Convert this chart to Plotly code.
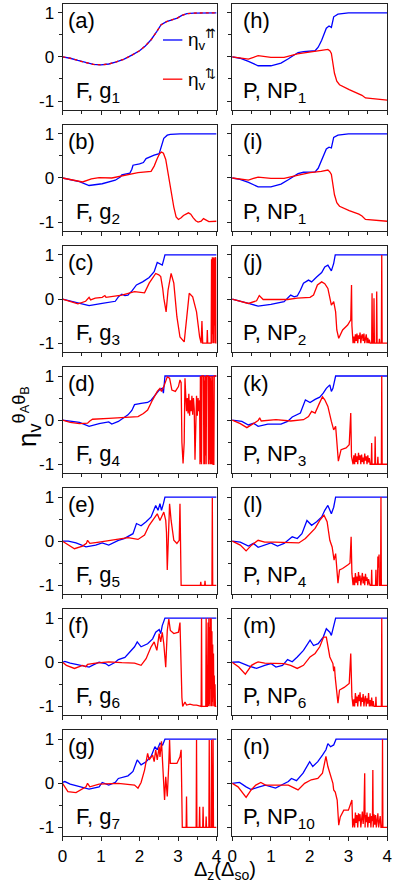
import plotly.graph_objects as go

# ---- curves, as (x, y) points ----
# left column: F, g_n        right column: P, NP_n
A_CURVE = [(0, 0), (0.2, -0.03), (0.4, -0.08), (0.6, -0.13), (0.8, -0.17), (1.0, -0.18), (1.2, -0.16),
           (1.4, -0.11), (1.6, -0.05), (1.8, 0.04), (2.0, 0.14), (2.15, 0.25), (2.3, 0.39), (2.45, 0.58),
           (2.56, 0.73), (2.7, 0.8), (2.81, 0.83), (2.9, 0.85), (2.98, 0.88), (3.1, 0.94), (3.23, 0.98),
           (3.4, 0.995), (3.6, 1.0), (4.0, 1.0)]

B_BLUE = [(0, 0), (0.44, -0.08), (0.69, -0.17), (1.03, -0.13), (1.37, -0.05), (1.5, 0.02), (1.54, 0.07),
          (1.7, 0.1), (1.75, 0.11), (1.8, 0.2), (1.83, 0.29), (2.0, 0.32), (2.1, 0.35), (2.17, 0.44),
          (2.3, 0.5), (2.38, 0.52), (2.51, 0.55), (2.57, 0.72), (2.63, 0.9), (2.72, 0.97), (2.8, 0.99),
          (3.05, 1.0), (4.0, 1.0)]
B_RED = [(0, 0), (0.25, -0.04), (0.52, -0.09), (0.75, -0.02), (0.95, 0.01), (1.28, 0.0), (1.62, 0.06),
         (1.96, 0.12), (2.3, 0.15), (2.38, 0.27), (2.46, 0.44), (2.52, 0.55), (2.57, 0.59), (2.62, 0.56),
         (2.68, 0.42), (2.74, 0.1), (2.8, -0.2), (2.89, -0.66), (2.95, -0.88), (3.01, -0.94), (3.08, -0.9),
         (3.14, -0.85), (3.27, -0.79), (3.33, -0.82), (3.39, -0.9), (3.46, -0.97), (3.52, -1.0), (3.6, -0.98),
         (3.66, -0.92), (3.72, -0.95), (3.8, -0.99), (4.0, -0.98)]

C_BLUE = [(0, 0), (0.2, -0.04), (0.44, -0.1), (0.69, -0.15), (1.03, -0.1), (1.37, -0.05), (1.45, 0.05),
          (1.54, 0.11), (1.62, 0.08), (1.7, 0.09), (1.75, 0.14), (1.79, 0.17), (1.92, 0.32), (2.08, 0.39),
          (2.25, 0.49), (2.32, 0.55), (2.38, 0.62), (2.46, 0.83), (2.52, 0.8), (2.59, 0.77), (2.63, 0.9),
          (2.66, 1.0), (4.0, 1.0)]
C_RED = [(0, 0), (0.2, -0.06), (0.4, -0.11), (0.6, -0.05), (0.69, 0.04), (0.73, -0.02), (0.85, 0.02),
         (1.03, 0.04), (1.1, 0.08), (1.13, 0.04), (1.54, 0.09), (1.87, 0.17), (2.13, 0.14), (2.25, 0.36),
         (2.42, 0.58), (2.5, 0.55), (2.55, 0.51), (2.6, 0.25), (2.63, 0.02), (2.69, -0.29), (2.74, 0.2),
         (2.82, 0.58), (2.89, 0.36), (2.97, -0.4), (3.05, -0.86), (3.16, -0.97), (3.22, -0.48), (3.29, 0.13),
         (3.38, 0.05), (3.48, -0.29), (3.56, -0.86), (3.6, -1.0), (3.62, -0.5), (3.64, -1.0), (3.75, -1.0),
         (3.76, -0.7), (3.77, -1.0), (3.86, -1.0), (3.87, 0.9), (3.88, -1.0), (3.89, 0.95), (3.9, -0.8),
         (3.91, 0.93), (3.92, -1.0), (3.93, 0.95), (3.94, -0.6), (3.95, 0.92), (3.96, -1.0), (3.97, 0.95),
         (3.98, 0.93), (3.99, -1.0), (4.0, -1.0)]

D_BLUE = [(0, 0), (0.2, -0.03), (0.44, -0.05), (0.69, -0.14), (0.95, -0.08), (1.2, -0.04), (1.28, -0.09),
          (1.45, -0.03), (1.6, 0.06), (1.7, 0.12), (1.8, 0.22), (1.87, 0.35), (2.04, 0.38), (2.21, 0.4),
          (2.3, 0.45), (2.38, 0.53), (2.51, 0.68), (2.59, 0.72), (2.62, 0.61), (2.66, 1.0), (4.0, 1.0)]
D_RED = [(0, 0), (0.2, -0.05), (0.44, -0.08), (0.65, -0.07), (0.71, -0.02), (0.78, 0.02), (1.2, 0.04),
         (1.7, 0.06), (1.96, 0.08), (2.1, 0.15), (2.21, 0.23), (2.34, 0.46), (2.46, 0.65), (2.53, 0.72),
         (2.57, 0.65), (2.63, 0.76), (2.68, 0.91), (2.72, 0.98), (2.78, 0.95), (2.84, 0.68), (2.93, 0.65),
         (3.01, 0.76), (3.05, 0.91), (3.08, 0.85), (3.1, -0.5), (3.13, -0.98), (3.16, -0.5), (3.18, 0.95),
         (3.2, 0.55), (3.22, 0.2), (3.24, 0.5), (3.26, 0.15), (3.28, 0.6), (3.3, 0.1), (3.32, 0.45),
         (3.34, 0.2), (3.36, 0.55), (3.38, 0.12), (3.4, 0.5), (3.42, 0.25), (3.44, -0.9), (3.46, 0.3),
         (3.48, 0.55), (3.5, 0.1), (3.52, 0.5), (3.54, 0.2), (3.56, 0.45), (3.57, -1.0), (3.58, 1.0),
         (3.59, -0.95), (3.6, 1.0), (3.61, -1.0), (3.62, 1.0), (3.66, 1.0), (3.67, -1.0), (3.68, 0.9),
         (3.69, -1.0), (3.7, 1.0), (3.71, -0.8), (3.72, 1.0), (3.73, -1.0), (3.74, 1.0), (3.78, 1.0),
         (3.79, -1.0), (3.8, 1.0), (3.81, -0.9), (3.82, 1.0), (3.83, -1.0), (3.84, 0.95), (3.85, -1.0),
         (3.86, 1.0), (3.87, -1.0), (3.88, 0.9), (3.89, -1.0), (3.9, 1.0), (3.91, -1.0), (3.93, -1.0),
         (3.94, 1.0), (3.95, 1.0), (4.0, 1.0)]

E_BLUE = [(0, 0), (0.15, 0.0), (0.35, -0.04), (0.5, -0.1), (0.61, -0.13), (0.86, -0.09), (1.03, -0.04),
          (1.2, -0.09), (1.3, -0.05), (1.45, 0.02), (1.6, 0.06), (1.7, 0.11), (1.83, 0.17), (1.92, 0.4),
          (2.04, 0.35), (2.17, 0.44), (2.3, 0.55), (2.42, 0.81), (2.48, 0.7), (2.53, 0.85), (2.57, 0.7),
          (2.62, 0.85), (2.66, 1.0), (4.0, 1.0)]
E_RED = [(0, 0), (0.15, -0.08), (0.31, -0.17), (0.52, -0.11), (0.62, -0.05), (0.65, 0.02), (0.71, -0.05),
         (0.95, -0.02), (1.37, 0.04), (1.7, 0.08), (1.96, 0.04), (2.13, 0.14), (2.25, 0.36), (2.38, 0.51),
         (2.46, 0.62), (2.53, 0.47), (2.59, 0.59), (2.63, 0.66), (2.68, 0.47), (2.7, 0.2), (2.72, -0.65),
         (2.74, -0.13), (2.78, 0.85), (2.82, 0.47), (2.89, 0.02), (2.97, -0.05), (3.03, 0.02), (3.05, 0.85),
         (3.06, 0.3), (3.08, -1.0), (3.58, -1.0), (3.59, -0.92), (3.6, -1.0), (3.69, -1.0), (3.7, -0.9),
         (3.71, -1.0), (3.88, -1.0), (3.89, 0.98), (3.9, -1.0), (4.0, -1.0)]

F_BLUE = [(0, 0), (0.06, 0.02), (0.2, -0.02), (0.44, -0.07), (0.69, -0.11), (0.8, -0.06), (0.95, 0.0),
          (1.12, -0.03), (1.2, -0.08), (1.37, 0.0), (1.45, 0.06), (1.62, 0.11), (1.75, 0.23), (1.87, 0.35),
          (1.94, 0.46), (2.04, 0.35), (2.21, 0.42), (2.34, 0.53), (2.42, 0.68), (2.51, 0.74), (2.55, 0.65),
          (2.59, 0.83), (2.66, 1.0), (4.0, 1.0)]
F_RED = [(0, 0), (0.1, -0.07), (0.31, -0.14), (0.52, -0.07), (0.6, -0.1), (0.65, -0.05), (0.86, -0.02),
         (1.2, 0.01), (1.54, -0.01), (1.87, -0.02), (2.04, -0.07), (2.17, 0.08), (2.3, 0.35), (2.38, 0.46),
         (2.45, 0.27), (2.51, 0.65), (2.55, 0.46), (2.59, 0.68), (2.63, 0.42), (2.68, -0.11), (2.72, 0.72),
         (2.76, 0.98), (2.8, 0.72), (2.89, 0.65), (3.01, 0.68), (3.05, 0.9), (3.1, -0.8), (3.12, -1.0),
         (3.18, -0.9), (3.22, -0.97), (3.31, -0.95), (3.4, -0.97), (3.48, -0.97), (3.56, -1.0), (3.6, -1.0),
         (3.61, 1.0), (3.62, -1.0), (3.72, -1.0), (3.73, 1.0), (3.74, -1.0), (3.76, -1.0), (3.78, 0.9),
         (3.79, -1.0), (3.8, 1.0), (3.81, -0.95), (3.82, 0.8), (3.83, -1.0), (3.84, 1.0), (3.85, -0.6),
         (3.86, 1.0), (3.87, -1.0), (3.88, 0.7), (3.89, -0.9), (3.9, 0.4), (3.91, -1.0), (3.92, 0.2),
         (3.93, -0.8), (3.94, -0.3), (3.95, -1.0), (3.96, -0.5), (3.97, -1.0), (4.0, -1.0)]

G_BLUE = [(0, 0.02), (0.06, 0.04), (0.2, -0.02), (0.44, -0.08), (0.69, -0.13), (0.95, -0.08), (1.03, 0.02),
          (1.2, -0.04), (1.37, 0.02), (1.45, 0.11), (1.7, 0.17), (1.83, 0.27), (1.94, 0.53), (2.04, 0.42),
          (2.17, 0.49), (2.3, 0.61), (2.4, 0.83), (2.46, 0.76), (2.53, 0.91), (2.6, 0.87), (2.66, 1.0),
          (4.0, 1.0)]
G_RED = [(0, 0), (0.14, -0.19), (0.35, -0.21), (0.55, -0.12), (0.61, -0.08), (0.65, 0.0), (0.71, -0.08),
         (0.95, -0.02), (1.45, 0.0), (1.87, -0.04), (1.96, -0.11), (2.04, 0.02), (2.13, 0.3), (2.21, 0.68),
         (2.25, 0.53), (2.34, 0.64), (2.38, 0.49), (2.42, 0.76), (2.46, 0.53), (2.51, 0.83), (2.53, 0.6),
         (2.57, 0.95), (2.6, 0.3), (2.62, -0.08), (2.65, -0.38), (2.68, 0.15), (2.72, -0.3), (2.76, 0.45),
         (2.78, 0.98), (2.8, 0.45), (2.97, 0.45), (3.05, 0.6), (3.08, 0.76), (3.11, -1.0), (3.21, -1.0),
         (3.22, -0.3), (3.23, -1.0), (3.47, -1.0), (3.48, 0.98), (3.49, -1.0), (3.55, -1.0), (3.56, -0.53),
         (3.57, -1.0), (3.64, -1.0), (3.65, -0.53), (3.66, -1.0), (3.72, -1.0), (3.73, -0.75), (3.74, -1.0),
         (3.8, -1.0), (3.81, 0.98), (3.82, -1.0), (3.86, -1.0), (3.87, 0.98), (3.88, -1.0), (3.9, -1.0),
         (3.91, 1.0), (3.92, -1.0), (4.0, -1.0)]

H_BLUE = [(0, 0), (0.2, -0.03), (0.42, -0.1), (0.55, -0.16), (0.67, -0.2), (1.0, -0.2), (1.26, -0.14),
          (1.45, -0.04), (1.59, 0.05), (1.7, 0.1), (1.84, 0.12), (2.14, 0.14), (2.22, 0.22), (2.31, 0.38),
          (2.43, 0.65), (2.5, 0.7), (2.56, 0.67), (2.62, 0.91), (2.73, 0.97), (3.0, 1.0), (4.0, 1.0)]
H_RED = [(0, 0), (0.2, -0.02), (0.42, -0.05), (0.55, -0.01), (0.67, 0.03), (1.0, -0.01), (1.34, -0.01),
         (1.68, 0.07), (2.01, 0.12), (2.3, 0.15), (2.47, 0.17), (2.52, 0.14), (2.56, 0.08), (2.64, -0.37),
         (2.7, -0.55), (2.77, -0.63), (3.02, -0.74), (3.27, -0.83), (3.35, -0.87), (3.44, -0.93),
         (3.69, -0.95), (4.0, -0.98)]

I_BLUE = [(0, 0), (0.2, -0.03), (0.42, -0.1), (0.55, -0.15), (0.67, -0.2), (1.0, -0.2), (1.26, -0.14),
          (1.45, -0.04), (1.59, 0.05), (1.7, 0.1), (1.84, 0.13), (2.14, 0.14), (2.22, 0.22), (2.31, 0.4),
          (2.43, 0.66), (2.5, 0.7), (2.56, 0.68), (2.62, 0.92), (2.73, 0.97), (3.0, 1.0), (4.0, 1.0)]
I_RED = [(0, 0), (0.2, -0.02), (0.42, -0.05), (0.55, -0.01), (0.67, 0.02), (1.0, -0.01), (1.34, -0.01),
         (1.68, 0.06), (2.01, 0.12), (2.3, 0.15), (2.47, 0.18), (2.52, 0.14), (2.56, 0.08), (2.64, -0.38),
         (2.7, -0.56), (2.77, -0.64), (3.02, -0.74), (3.27, -0.82), (3.35, -0.86), (3.44, -0.94),
         (3.69, -0.96), (4.0, -0.98)]

J_BLUE = [(0, 0), (0.2, -0.04), (0.42, -0.1), (0.67, -0.16), (1.0, -0.12), (1.34, -0.06), (1.51, 0.09),
          (1.6, 0.05), (1.68, 0.07), (1.76, 0.2), (1.84, 0.36), (1.97, 0.43), (2.05, 0.39), (2.18, 0.5),
          (2.31, 0.6), (2.39, 0.73), (2.47, 0.77), (2.56, 0.64), (2.62, 0.81), (2.66, 1.0), (4.0, 1.0)]
J_RED = [(0, 0), (0.2, -0.05), (0.42, -0.1), (0.63, -0.04), (0.7, 0.08), (0.8, -0.01), (1.17, 0.0),
         (1.43, -0.01), (1.68, 0.02), (2.01, 0.04), (2.1, 0.09), (2.2, 0.32), (2.31, 0.39), (2.39, 0.35),
         (2.47, 0.24), (2.56, -0.14), (2.62, -0.06), (2.67, -0.29), (2.7, -0.7), (2.75, -0.89), (2.85, -0.7),
         (2.98, -0.59), (3.06, -0.47), (3.08, 0.32), (3.09, -0.6), (3.12, -1.0), (3.14, -0.85), (3.16, -1.0),
         (3.18, -0.8), (3.2, -0.95), (3.22, -0.78), (3.24, -1.0), (3.26, -0.82), (3.28, -0.9), (3.3, -0.76),
         (3.32, -1.0), (3.34, -0.84), (3.36, -0.8), (3.38, -0.95), (3.4, -0.78), (3.42, -1.0), (3.44, -0.86),
         (3.46, -0.8), (3.48, -1.0), (3.5, -0.88), (3.52, -1.0), (3.54, -0.92), (3.56, -1.0), (3.6, -1.0),
         (3.61, 0.13), (3.62, -1.0), (3.65, -1.0), (3.66, 0.02), (3.67, -1.0), (3.72, -1.0), (3.73, 0.17),
         (3.74, -1.0), (3.79, -1.0), (3.8, -0.9), (3.81, -1.0), (3.85, -1.0), (3.86, 1.0), (3.87, -1.0),
         (4.0, -1.0)]

K_BLUE = [(0, 0), (0.25, -0.03), (0.42, -0.11), (0.55, -0.07), (0.67, -0.14), (0.92, -0.09), (1.26, -0.09),
          (1.43, -0.03), (1.55, 0.07), (1.68, 0.12), (1.76, 0.16), (1.89, 0.46), (2.01, 0.4), (2.14, 0.47),
          (2.26, 0.52), (2.35, 0.61), (2.43, 0.72), (2.52, 0.8), (2.56, 0.65), (2.6, 0.72), (2.67, 1.0),
          (4.0, 1.0)]
K_RED = [(0, 0), (0.21, -0.08), (0.38, -0.17), (0.55, -0.07), (0.67, -0.01), (0.71, 0.05), (0.75, -0.02),
         (1.13, 0.01), (1.51, -0.02), (1.84, 0.01), (1.97, 0.08), (2.05, 0.2), (2.14, 0.16), (2.25, 0.38),
         (2.33, 0.53), (2.39, 0.46), (2.47, 0.31), (2.56, -0.03), (2.62, -0.22), (2.67, -0.14), (2.7, -0.52),
         (2.74, -0.93), (2.81, -0.67), (2.94, -0.63), (3.02, -0.56), (3.06, 0.16), (3.08, -0.83), (3.12, -1.0),
         (3.14, -0.8), (3.16, -1.0), (3.18, -0.75), (3.2, -0.95), (3.22, -0.82), (3.24, -1.0), (3.26, -0.74),
         (3.28, -0.9), (3.3, -0.8), (3.32, -1.0), (3.34, -0.78), (3.36, -0.95), (3.38, -0.85), (3.4, -1.0),
         (3.42, -0.76), (3.44, -0.92), (3.46, -0.82), (3.48, -1.0), (3.5, -0.8), (3.52, -0.96), (3.54, -0.86),
         (3.56, -1.0), (3.59, -1.0), (3.6, -0.52), (3.61, -1.0), (3.68, -1.0), (3.69, -0.37), (3.7, -1.0),
         (3.75, -1.0), (3.76, -0.83), (3.77, -1.0), (3.85, -1.0), (3.86, 1.0), (3.87, -1.0), (4.0, -1.0)]

L_BLUE = [(0, 0), (0.21, -0.02), (0.42, -0.11), (0.55, -0.05), (0.67, -0.14), (0.84, -0.09), (1.0, -0.04),
          (1.17, -0.11), (1.34, -0.05), (1.55, 0.1), (1.68, 0.06), (1.8, 0.17), (1.93, 0.47), (2.05, 0.36),
          (2.18, 0.44), (2.31, 0.55), (2.39, 0.7), (2.47, 0.81), (2.56, 0.62), (2.62, 0.77), (2.67, 1.0),
          (4.0, 1.0)]
L_RED = [(0, 0), (0.21, -0.09), (0.36, -0.22), (0.5, -0.09), (0.67, 0.02), (0.84, -0.02), (1.09, -0.02),
         (1.51, -0.04), (1.72, -0.04), (1.89, 0.06), (2.01, 0.17), (2.14, 0.29), (2.26, 0.47), (2.37, 0.59),
         (2.45, 0.44), (2.52, 0.02), (2.58, -0.13), (2.63, -0.43), (2.67, -0.28), (2.73, -0.95), (2.77, -0.65),
         (2.85, -0.62), (2.98, -0.54), (3.04, -0.5), (3.07, 0.1), (3.09, -0.73), (3.12, -1.0), (3.14, -0.82),
         (3.16, -1.0), (3.18, -0.72), (3.2, -0.94), (3.22, -0.8), (3.24, -1.0), (3.26, -0.7), (3.28, -0.9),
         (3.3, -0.78), (3.32, -1.0), (3.34, -0.84), (3.36, -0.72), (3.38, -0.96), (3.4, -0.8), (3.42, -1.0),
         (3.44, -0.74), (3.46, -0.9), (3.48, -0.82), (3.5, -1.0), (3.52, -0.86), (3.54, -0.95), (3.56, -1.0),
         (3.59, -1.0), (3.6, -0.65), (3.61, -1.0), (3.7, -1.0), (3.71, -0.65), (3.72, -1.0), (3.75, -1.0),
         (3.76, -0.35), (3.77, -0.6), (3.79, -0.3), (3.8, -1.0), (3.83, -1.0), (3.84, 1.0), (3.85, -1.0),
         (4.0, -1.0)]

M_BLUE = [(0, 0), (0.17, 0.01), (0.42, -0.08), (0.63, -0.14), (0.84, -0.07), (1.0, -0.03), (1.13, -0.11),
          (1.3, -0.07), (1.43, 0.06), (1.55, 0.01), (1.68, 0.12), (1.84, 0.27), (2.01, 0.5), (2.1, 0.38),
          (2.22, 0.42), (2.35, 0.57), (2.43, 0.76), (2.52, 0.68), (2.56, 0.61), (2.62, 0.83), (2.67, 1.0),
          (4.0, 1.0)]
M_RED = [(0, 0), (0.17, -0.11), (0.34, -0.27), (0.5, -0.07), (0.6, -0.02), (0.67, 0.01), (0.84, -0.02),
         (1.09, -0.02), (1.34, -0.03), (1.51, -0.07), (1.68, -0.14), (1.84, -0.07), (2.01, 0.12), (2.14, 0.2),
         (2.26, 0.35), (2.36, 0.57), (2.43, 0.57), (2.52, 0.12), (2.6, -0.03), (2.62, -0.2), (2.64, -0.1),
         (2.66, -0.35), (2.68, -0.48), (2.7, -0.7), (2.73, -0.93), (2.77, -0.63), (2.89, -0.57), (3.02, -0.48),
         (3.06, 0.2), (3.09, -0.78), (3.12, -1.0), (3.14, -0.84), (3.16, -1.0), (3.18, -0.7), (3.2, -0.92),
         (3.22, -0.78), (3.24, -1.0), (3.26, -0.74), (3.28, -0.88), (3.3, -0.68), (3.32, -1.0), (3.34, -0.8),
         (3.36, -0.9), (3.38, -0.72), (3.4, -1.0), (3.42, -0.84), (3.44, -0.76), (3.46, -1.0), (3.48, -0.82),
         (3.5, -0.94), (3.52, -0.7), (3.54, -1.0), (3.56, -0.86), (3.58, -1.0), (3.6, -0.8), (3.62, -1.0),
         (3.64, -0.88), (3.66, -1.0), (3.7, -1.0), (3.71, -0.78), (3.72, -1.0), (3.85, -1.0), (3.86, 1.0),
         (3.87, -1.0), (4.0, -1.0)]

N_BLUE = [(0, 0), (0.19, 0.02), (0.36, -0.08), (0.49, -0.14), (0.7, -0.08), (0.86, -0.04), (1.12, -0.11),
          (1.28, -0.04), (1.45, 0.04), (1.53, 0.11), (1.66, 0.06), (1.83, 0.23), (2.0, 0.49), (2.08, 0.38),
          (2.21, 0.49), (2.33, 0.64), (2.42, 0.76), (2.47, 0.9), (2.54, 0.83), (2.62, 0.87), (2.68, 1.0),
          (4.0, 1.0)]
N_RED = [(0, 0), (0.15, -0.08), (0.36, -0.32), (0.49, -0.15), (0.61, -0.04), (0.74, 0.02), (0.86, -0.04),
         (1.12, -0.04), (1.45, -0.04), (1.7, -0.15), (1.87, 0.0), (2.04, 0.08), (2.21, 0.11), (2.33, 0.23),
         (2.42, 0.61), (2.47, 0.38), (2.54, 0.15), (2.6, 0.0), (2.62, -0.15), (2.66, -0.2), (2.71, -0.38),
         (2.75, -0.95), (2.79, -0.76), (2.88, -0.61), (3.0, -0.61), (3.09, -0.38), (3.11, -1.0), (3.14, -0.8),
         (3.16, -1.0), (3.18, -0.66), (3.2, -0.9), (3.22, -0.72), (3.24, -1.0), (3.26, -0.68), (3.28, -0.86),
         (3.3, -0.7), (3.32, -1.0), (3.34, -0.75), (3.36, -0.64), (3.38, -0.92), (3.4, -0.7), (3.42, 0.23),
         (3.43, -1.0), (3.44, -0.72), (3.46, -0.88), (3.48, -0.66), (3.5, -1.0), (3.52, -0.76), (3.54, -0.9),
         (3.56, -0.68), (3.58, -1.0), (3.6, -0.74), (3.62, -0.86), (3.63, 0.3), (3.64, -1.0), (3.66, -0.7),
         (3.68, -0.94), (3.7, -0.72), (3.72, -1.0), (3.74, -0.8), (3.76, -0.68), (3.78, -1.0), (3.8, -0.82),
         (3.82, -0.74), (3.84, -1.0), (3.87, -1.0), (3.88, 1.0), (3.89, -1.0), (4.0, -1.0)]

LEFT_LABELS = ["F, g<sub>1</sub>", "F, g<sub>2</sub>", "F, g<sub>3</sub>", "F, g<sub>4</sub>",
               "F, g<sub>5</sub>", "F, g<sub>6</sub>", "F, g<sub>7</sub>"]
RIGHT_LABELS = ["P, NP<sub>1</sub>", "P, NP<sub>1</sub>", "P, NP<sub>2</sub>", "P, NP<sub>3</sub>",
                "P, NP<sub>4</sub>", "P, NP<sub>6</sub>", "P, NP<sub>10</sub>"]
LETTERS = list("abcdefghijklmn")
Y_TICKS = [-1, 0, 1]
Y_TICK_TEXT = ["-1", "0", "1"]
X_TICKS = [0, 1, 2, 3, 4]

BLUES = [A_CURVE, B_BLUE, C_BLUE, D_BLUE, E_BLUE, F_BLUE, G_BLUE,
         H_BLUE, I_BLUE, J_BLUE, K_BLUE, L_BLUE, M_BLUE, N_BLUE]
REDS = [A_CURVE, B_RED, C_RED, D_RED, E_RED, F_RED, G_RED,
        H_RED, I_RED, J_RED, K_RED, L_RED, M_RED, N_RED]

BLUE = "#0000ff"
RED = "#ff0000"
FONT = "Liberation Sans, Arial, sans-serif"
W, H = 399, 884

# pixel geometry of the panel grid
COL_X = [(59, 217), (233, 392)]
ROW_TOP0, ROW_STEP, ROW_H = 4, 121.2, 106

fig = go.Figure()
layout = {}
annotations = []

for i in range(14):
    col, row = divmod(i, 7)
    n = i + 1
    sx = "" if n == 1 else str(n)
    xr, yr = "x" + sx, "y" + sx

    bx, by = zip(*BLUES[i])
    rx, ry = zip(*REDS[i])
    fig.add_trace(go.Scatter(x=bx, y=by, mode="lines", xaxis=xr, yaxis=yr,
                             line=dict(color=BLUE, width=1.3), showlegend=False))
    fig.add_trace(go.Scatter(x=rx, y=ry, mode="lines", xaxis=xr, yaxis=yr,
                             line=dict(color=RED, width=1.3, dash="3px,3px" if i == 0 else "solid"),
                             showlegend=False))

    x0, x1 = COL_X[col]
    top = ROW_TOP0 + row * ROW_STEP
    bot = top + ROW_H
    axis_common = dict(showline=True, mirror=True, linecolor="#222", linewidth=1,
                       showgrid=False, zeroline=False, ticks="outside", ticklen=4,
                       tickcolor="#222", tickfont=dict(family=FONT, size=17, color="black"))
    layout["xaxis" + sx] = dict(axis_common, domain=[x0 / W, x1 / W], anchor=yr, range=[0, 4],
                                tickvals=X_TICKS, showticklabels=(row == 6),
                                minor=dict(dtick=0.5, tick0=0, ticks="outside", ticklen=3, tickcolor="#222"))
    layout["yaxis" + sx] = dict(axis_common, domain=[1 - bot / H, 1 - top / H], anchor=xr,
                                range=[-1.2, 1.2], tickvals=Y_TICKS, ticktext=Y_TICK_TEXT,
                                showticklabels=(col == 0),
                                minor=dict(dtick=0.5, tick0=0, ticks="outside", ticklen=3, tickcolor="#222"))

    letter_dx = 0.025 if col == 0 else 0.055
    label_dx = 0.075 if col == 0 else 0.055
    annotations.append(dict(text="(" + LETTERS[i] + ")", xref=xr + " domain", yref=yr + " domain",
                            x=letter_dx, y=0.985, xanchor="left", yanchor="top", showarrow=False,
                            font=dict(family=FONT, size=22, color="black")))
    annotations.append(dict(text=(LEFT_LABELS if col == 0 else RIGHT_LABELS)[row],
                            xref=xr + " domain", yref=yr + " domain",
                            x=label_dx, y=0.02, xanchor="left", yanchor="bottom", showarrow=False,
                            font=dict(family=FONT, size=22, color="black")))

# legend of panel (a), drawn by hand
shapes = [
    dict(type="line", xref="x domain", yref="y domain", x0=0.652, x1=0.778, y0=0.66, y1=0.66,
         line=dict(color=BLUE, width=1.3)),
    dict(type="line", xref="x domain", yref="y domain", x0=0.652, x1=0.778, y0=0.29, y1=0.29,
         line=dict(color=RED, width=1.3)),
]
for yy, arrow in [(0.66, "⇈"), (0.29, "⇅")]:
    annotations.append(dict(text="η<sub>v</sub><sup>" + arrow + "</sup>", xref="x domain", yref="y domain",
                            x=0.8, y=yy, xanchor="left", yanchor="middle", showarrow=False,
                            font=dict(family=FONT, size=19, color="black")))

# axis titles
annotations.append(dict(text="η<sub>v</sub><sup>θ<sub>A</sub>θ<sub>B</sub></sup>", xref="paper", yref="paper",
                        x=22 / W, y=1 - 417 / H, textangle=-90, showarrow=False,
                        xanchor="center", yanchor="middle",
                        font=dict(family=FONT, size=26, color="black")))
annotations.append(dict(text="Δ<sub>z</sub>(Δ<sub>so</sub>)", xref="paper", yref="paper",
                        x=226 / W, y=1 - 871 / H, showarrow=False, xanchor="center", yanchor="middle",
                        font=dict(family=FONT, size=20, color="black")))

fig.update_layout(width=W, height=H, margin=dict(l=0, r=0, t=0, b=0),
                  paper_bgcolor="white", plot_bgcolor="white",
                  annotations=annotations, shapes=shapes, **layout)

# the page's default body margin would push the figure 8px off; drop it
fig.write_html("out.html", config={"displayModeBar": False},
               post_script="document.body.style.margin='0';document.body.style.overflow='hidden';")
